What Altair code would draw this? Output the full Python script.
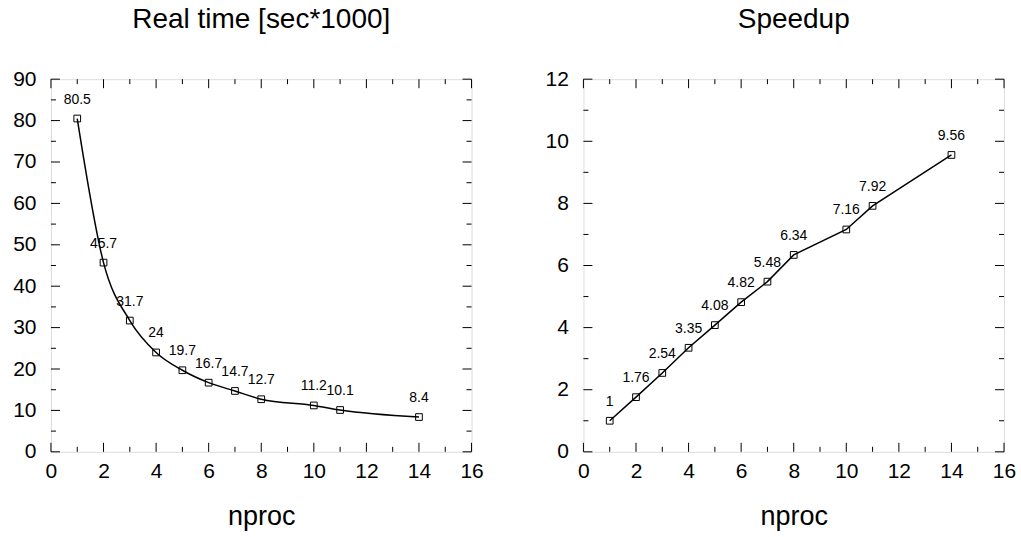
import altair as alt
import pandas as pd

nproc = [1, 2, 3, 4, 5, 6, 7, 8, 10, 11, 14]
real_time = [80.5, 45.7, 31.7, 24, 19.7, 16.7, 14.7, 12.7, 11.2, 10.1, 8.4]
time_labels = ["80.5", "45.7", "31.7", "24", "19.7", "16.7", "14.7", "12.7", "11.2", "10.1", "8.4"]
speedup = [1, 1.76, 2.54, 3.35, 4.08, 4.82, 5.48, 6.34, 7.16, 7.92, 9.56]
speed_labels = ["1", "1.76", "2.54", "3.35", "4.08", "4.82", "5.48", "6.34", "7.16", "7.92", "9.56"]

x_major = [0, 2, 4, 6, 8, 10, 12, 14, 16]
x_minor = [1, 3, 5, 7, 9, 11, 13, 15]
t_major = [0, 10, 20, 30, 40, 50, 60, 70, 80, 90]
t_minor = [5, 15, 25, 35, 45, 55, 65, 75, 85]
s_major = [0, 2, 4, 6, 8, 10, 12]
s_minor = [1, 3, 5, 7, 9, 11]

W, H = 421, 373
MAJ, MIN = 9, 5
FONT = "Liberation Sans"


def panel(values, labels, title, ydom, ymaj, ymin, interp):
    df = pd.DataFrame({"nproc": nproc, "v": values, "lab": labels})
    xs = alt.Scale(domain=[0, 16], nice=False, zero=False)
    ys = alt.Scale(domain=ydom, nice=False, zero=False)
    xax = alt.Axis(values=x_major, ticks=False, domain=False, grid=False,
                   labelFontSize=21, labelFont=FONT, labelColor="black",
                   labelPadding=9, title="nproc", titleFontSize=27,
                   titleFont=FONT, titleFontWeight="normal", titleColor="black",
                   titlePadding=22, labelFlush=False)
    yax = alt.Axis(values=ymaj, ticks=False, domain=False, grid=False,
                   labelFontSize=21, labelFont=FONT, labelColor="black",
                   labelPadding=15, title=None, labelFlush=False)
    base = alt.Chart(df)
    line = base.mark_line(color="black", strokeWidth=1.5, interpolate=interp).encode(
        x=alt.X("nproc:Q", scale=xs, axis=xax),
        y=alt.Y("v:Q", scale=ys, axis=yax),
    )
    pts = base.mark_point(shape="square", size=45, filled=False, color="black",
                          strokeWidth=1, opacity=1).encode(
        x=alt.X("nproc:Q", scale=xs), y=alt.Y("v:Q", scale=ys))
    txt = base.mark_text(fontSize=14, font=FONT, color="black", dy=-19).encode(
        x=alt.X("nproc:Q", scale=xs), y=alt.Y("v:Q", scale=ys), text="lab:N")

    layers = [line, pts, txt]

    def xticks(vals, ln):
        d = pd.DataFrame({"nproc": vals})
        bot = alt.Chart(d).mark_rule(color="black", strokeWidth=1).encode(
            x=alt.X("nproc:Q", scale=xs), y=alt.value(H), y2=alt.value(H - ln))
        top = alt.Chart(d).mark_rule(color="black", strokeWidth=1).encode(
            x=alt.X("nproc:Q", scale=xs), y=alt.value(0), y2=alt.value(ln))
        return [bot, top]

    def yticks(vals, ln):
        d = pd.DataFrame({"v": vals})
        lft = alt.Chart(d).mark_rule(color="black", strokeWidth=1).encode(
            y=alt.Y("v:Q", scale=ys), x=alt.value(0), x2=alt.value(ln))
        rgt = alt.Chart(d).mark_rule(color="black", strokeWidth=1).encode(
            y=alt.Y("v:Q", scale=ys), x=alt.value(W), x2=alt.value(W - ln))
        return [lft, rgt]

    layers += xticks(x_major, MAJ) + xticks(x_minor, MIN)
    layers += yticks(ymaj, MAJ) + yticks(ymin, MIN)
    return alt.layer(*layers).properties(
        width=W, height=H,
        title=alt.TitleParams(title, fontSize=28, font=FONT, fontWeight="normal",
                              color="black", offset=34, anchor="middle"))


left = panel(real_time, time_labels, "Real time [sec*1000]", [0, 90], t_major, t_minor, "monotone")
right = panel(speedup, speed_labels, "Speedup", [0, 12], s_major, s_minor, "linear")

chart = alt.hconcat(left, right, spacing=60).properties(
    padding={"left": 12, "top": 5, "right": 4, "bottom": 0}
).configure_view(stroke="black", strokeWidth=1).configure(background="white")

chart.save("out.html", embed_options={"renderer": "svg", "actions": False})
